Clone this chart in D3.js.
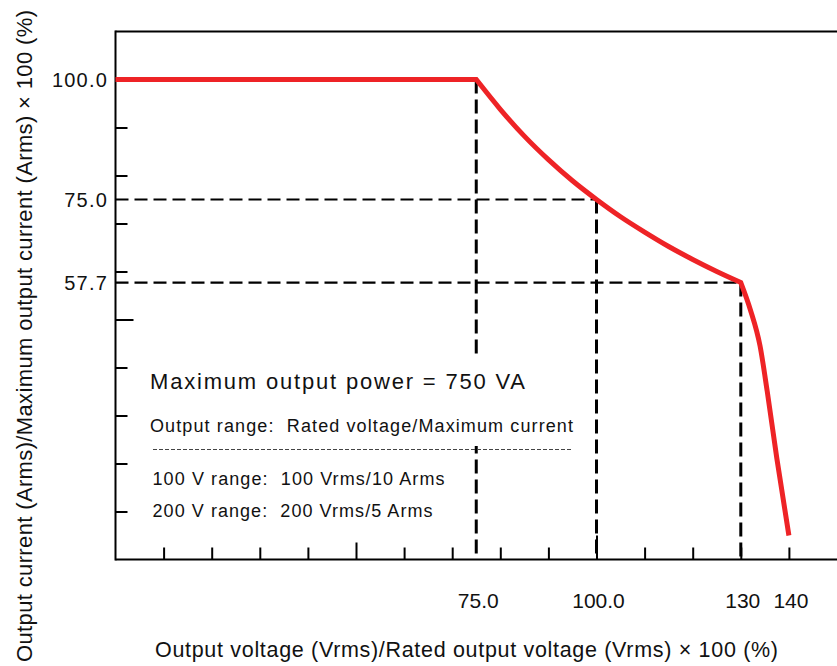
<!DOCTYPE html>
<html>
<head>
<meta charset="utf-8">
<script src="https://cdn.jsdelivr.net/npm/d3@7"></script>
<style>
  html, body { margin: 0; padding: 0; background: #fff; }
  svg { display: block; }
  text { font-family: "Liberation Sans", Arial, Helvetica, sans-serif; fill: #111; white-space: pre; }
</style>
</head>
<body>
<svg id="chart" width="837" height="666"></svg>
<script>
// ---- data ----
const voltage = [0, 75, 80, 85, 90, 95, 100, 105, 110, 115, 120, 125, 130, 132, 134, 135.5, 137.5, 140];
const current = [100, 100, 93.8, 88.2, 83.3, 78.9, 75, 71.4, 68.2, 65.2, 62.5, 60, 57.7, 52, 44.5, 35, 21, 5];
const segmentBreaks = [0, 1, 12, 17]; // indices of the sharp corners in the curve
const xTickValues = [10, 20, 30, 40, 50, 60, 70, 80, 90, 100, 110, 120, 130, 140];
const yTickValues = [10, 20, 30, 40, 50, 60, 70, 80, 90, 100];
const xLabelValues = [75, 100, 130, 140];
const xLabelTexts = ["75.0", "100.0", "130", "140"];
const yLabelValues = [100, 75, 57.7];
const yLabelTexts = ["100.0", "75.0", "57.7"];
const vGuideX = [75, 100, 130];
const vGuideTop = [100, 75, 57.7];
const hGuideY = [75, 57.7];
const hGuideEnd = [100, 130];
const xTitle = "Output voltage (Vrms)/Rated output voltage (Vrms) \u00d7 100 (%)";
const yTitle = "Output current (Arms)/Maximum output current (Arms) \u00d7 100 (%)";
const noteTitle = "Maximum output power = 750 VA";
const noteLines = ["Output range:  Rated voltage/Maximum current", "100 V range:  100 Vrms/10 Arms", "200 V range:  200 Vrms/5 Arms"];

// ---- scales ----
const x = d3.scaleLinear().domain([0, 150]).range([115.5, 837]);
const y = d3.scaleLinear().domain([0, 110]).range([559.5, 31.5]);

const svg = d3.select("#chart");

// guide dashed lines
const g = svg.append("g").attr("stroke", "#000").attr("fill", "none");
vGuideX.forEach((v, i) => {
  g.append("line").attr("x1", x(v)).attr("x2", x(v)).attr("y1", y(vGuideTop[i])).attr("y2", y(0))
    .attr("stroke-width", 3).attr("stroke-dasharray", "14,6");
});
hGuideY.forEach((v, i) => {
  g.append("line").attr("x1", x(0)).attr("x2", x(hGuideEnd[i])).attr("y1", y(v)).attr("y2", y(v))
    .attr("stroke-width", 2.2).attr("stroke-dasharray", "13,6");
});

// note box (white background hides guides)
svg.append("rect").attr("x", 140).attr("y", 357).attr("width", 445).attr("height", 89).attr("fill", "#fff");
svg.append("text").attr("x", 150).attr("y", 389).attr("font-size", 22)
  .attr("textLength", 375).attr("lengthAdjust", "spacing").text(noteTitle);
svg.append("text").attr("x", 150).attr("y", 431.5).attr("font-size", 18)
  .attr("textLength", 423).attr("lengthAdjust", "spacing").text(noteLines[0]);
svg.append("line").attr("x1", 153).attr("x2", 573).attr("y1", 449.5).attr("y2", 449.5)
  .attr("stroke", "#444").attr("stroke-width", 1).attr("stroke-dasharray", "4,2");
svg.append("text").attr("x", 152.5).attr("y", 485).attr("font-size", 18)
  .attr("textLength", 292).attr("lengthAdjust", "spacing").text(noteLines[1]);
svg.append("text").attr("x", 152.5).attr("y", 516.5).attr("font-size", 18)
  .attr("textLength", 280).attr("lengthAdjust", "spacing").text(noteLines[2]);

// axes ticks
const xAxis = svg.append("g").attr("transform", `translate(0,${y(0)})`)
  .call(d3.axisBottom(x).tickValues(xTickValues).tickSize(-12).tickFormat(""));
xAxis.select(".domain").remove();
xAxis.selectAll(".tick line").attr("stroke", "#000").attr("stroke-width", 2)
  .attr("y2", d => d === 50 ? -17 : (d === 100 ? -24 : -12));

const yAxis = svg.append("g").attr("transform", `translate(${x(0)},0)`)
  .call(d3.axisLeft(y).tickValues(yTickValues).tickSize(-12).tickFormat(""));
yAxis.select(".domain").remove();
yAxis.selectAll(".tick line").attr("stroke", "#000").attr("stroke-width", 2)
  .attr("x2", d => d === 50 ? 18 : 12);

// frame lines
svg.append("line").attr("x1", x(0)).attr("x2", x(150)).attr("y1", y(0)).attr("y2", y(0)).attr("stroke", "#000").attr("stroke-width", 2.2);
svg.append("line").attr("x1", x(0)).attr("x2", x(150)).attr("y1", y(110)).attr("y2", y(110)).attr("stroke", "#000").attr("stroke-width", 2.2);
svg.append("line").attr("x1", x(0)).attr("x2", x(0)).attr("y1", y(110) - 1).attr("y2", y(0) + 1).attr("stroke", "#000").attr("stroke-width", 2);

// red curve: straight top, smooth constant-power part, smooth drop, joined at sharp corners
const pts = voltage.map((v, i) => [v, current[i]]);
let d = "";
for (let s = 0; s < segmentBreaks.length - 1; s++) {
  const seg = pts.slice(segmentBreaks[s], segmentBreaks[s + 1] + 1);
  const gen = d3.line().x(p => x(p[0])).y(p => y(p[1]))
    .curve(seg.length > 2 ? d3.curveMonotoneX : d3.curveLinear);
  const part = gen(seg);
  d += s === 0 ? part : part.replace(/^M/, "L");
}
svg.append("path").attr("d", d).attr("fill", "none")
  .attr("stroke", "#ee2326").attr("stroke-width", 5).attr("stroke-linejoin", "miter");

// tick labels
xLabelValues.forEach((v, i) => {
  svg.append("text").attr("x", x(v) + 2).attr("y", 608).attr("font-size", 21)
    .attr("text-anchor", "middle").text(xLabelTexts[i]);
});
yLabelValues.forEach((v, i) => {
  svg.append("text").attr("x", 108).attr("y", y(v) + 7).attr("font-size", 20)
    .attr("letter-spacing", "1.2px").attr("text-anchor", "end").text(yLabelTexts[i]);
});

// axis titles
svg.append("text").attr("x", 466.5).attr("y", 657).attr("font-size", 21.5)
  .attr("text-anchor", "middle").attr("textLength", 623).attr("lengthAdjust", "spacing").text(xTitle);
svg.append("text").attr("transform", "translate(31.5,336) rotate(-90)").attr("font-size", 22)
  .attr("text-anchor", "middle").attr("textLength", 652).attr("lengthAdjust", "spacing").text(yTitle);
</script>
</body>
</html>
